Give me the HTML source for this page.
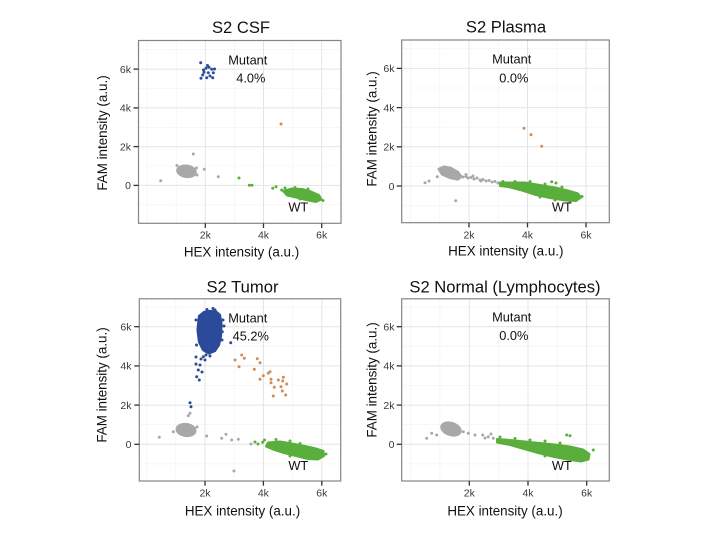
<!DOCTYPE html>
<html>
<head>
<meta charset="utf-8">
<style>
html,body{margin:0;padding:0;background:#fff;}
svg{display:block;}
text{font-family:"Liberation Sans",Arial,sans-serif;}
.t{font-size:16.6px;fill:#111;text-anchor:middle;}
.ax{font-size:13.4px;fill:#111;text-anchor:middle;}
.tk{font-size:10.5px;fill:#3a3a3a;}
.an{font-size:12.8px;fill:#111;text-anchor:middle;}
.gmaj{stroke:#e4e4e4;stroke-width:1;}
.gmin{stroke:#f2f2f2;stroke-width:0.6;}
.bd{fill:none;stroke:#858585;stroke-width:1.2;}
.tick{stroke:#333;stroke-width:1.3;}
.gr circle{fill:#a8a8a8;}
.gn circle{fill:#5aae3c;}
.bl circle{fill:#2b4a99;}
.or circle{fill:#cf8d5a;}
circle{r:1.5px;}
</style>
</head>
<body>
<svg width="720" height="540" viewBox="0 0 720 540" xmlns="http://www.w3.org/2000/svg">
<rect width="720" height="540" fill="#fff"/>

<!-- ============ TOP LEFT: S2 CSF ============ -->
<g>
<line class="gmin" x1="147.1" y1="40.5" x2="147.1" y2="223.3"/>
<line class="gmin" x1="176.2" y1="40.5" x2="176.2" y2="223.3"/>
<line class="gmin" x1="234.4" y1="40.5" x2="234.4" y2="223.3"/>
<line class="gmin" x1="292.6" y1="40.5" x2="292.6" y2="223.3"/>
<line class="gmin" x1="138.5" y1="204.8" x2="341" y2="204.8"/>
<line class="gmin" x1="138.5" y1="166" x2="341" y2="166"/>
<line class="gmin" x1="138.5" y1="127.3" x2="341" y2="127.3"/>
<line class="gmin" x1="138.5" y1="88.5" x2="341" y2="88.5"/>
<line class="gmin" x1="138.5" y1="49.7" x2="341" y2="49.7"/>
<line class="gmaj" x1="205.3" y1="40.5" x2="205.3" y2="223.3"/>
<line class="gmaj" x1="263.5" y1="40.5" x2="263.5" y2="223.3"/>
<line class="gmaj" x1="321.7" y1="40.5" x2="321.7" y2="223.3"/>
<line class="gmaj" x1="138.5" y1="185.4" x2="341" y2="185.4"/>
<line class="gmaj" x1="138.5" y1="146.6" x2="341" y2="146.6"/>
<line class="gmaj" x1="138.5" y1="107.9" x2="341" y2="107.9"/>
<line class="gmaj" x1="138.5" y1="69.1" x2="341" y2="69.1"/>

<ellipse cx="186.5" cy="171.3" rx="9.6" ry="6" fill="#a8a8a8" stroke="#a8a8a8" stroke-width="1.5" transform="rotate(8 186.5 171.3)"/>
<g class="gr">
<circle cx="160.7" cy="180.7" r="1.5"/><circle cx="193.3" cy="154" r="1.5"/><circle cx="204.3" cy="169.3" r="1.5"/>
<circle cx="218.3" cy="176.7" r="1.5"/><circle cx="177" cy="165.5" r="1.4"/><circle cx="197" cy="175" r="1.4"/>
<circle cx="196.5" cy="168" r="1.4"/>
</g>
<path d="M283,191 L292,188.5 L302,189 L311,191.5 L319,195 L321.5,199.5 L316,202 L306,200 L296,197.5 L287,195.5 Z" fill="#5aae3c" stroke="#5aae3c" stroke-width="2" stroke-linejoin="round"/>
<g class="gn">
<circle cx="239" cy="178" r="1.5"/><circle cx="249.3" cy="185.3" r="1.5"/><circle cx="252" cy="185.3" r="1.5"/>
<circle cx="272.7" cy="188.3" r="1.5"/><circle cx="276" cy="186.7" r="1.5"/><circle cx="281.7" cy="190" r="1.5"/>
<circle cx="323" cy="200.5" r="1.4"/><circle cx="285" cy="188" r="1.4"/><circle cx="295" cy="187.5" r="1.4"/>
<circle cx="308" cy="189" r="1.4"/><circle cx="300" cy="199" r="1.4"/>
</g>
<g class="or"><circle cx="281" cy="124" r="1.5"/></g>
<g class="bl">
<circle cx="200.7" cy="62.7" r="1.5"/><circle cx="206" cy="68.3" r="1.5"/><circle cx="209" cy="67.3" r="1.5"/>
<circle cx="211.7" cy="69.3" r="1.5"/><circle cx="204" cy="72.3" r="1.5"/><circle cx="202.7" cy="75" r="1.5"/>
<circle cx="201" cy="78.3" r="1.5"/><circle cx="206.7" cy="77.7" r="1.5"/><circle cx="210" cy="76" r="1.5"/>
<circle cx="212.7" cy="77.7" r="1.5"/><circle cx="213.3" cy="72.7" r="1.5"/><circle cx="208.3" cy="72.7" r="1.5"/>
<circle cx="207.5" cy="65.5" r="1.5"/><circle cx="203.5" cy="70" r="1.5"/><circle cx="214.5" cy="69" r="1.5"/>
</g>
<rect class="bd" x="138.5" y="40.5" width="202.5" height="182.8"/>
<line class="tick" x1="133.5" y1="185.4" x2="138.5" y2="185.4"/>
<line class="tick" x1="133.5" y1="146.6" x2="138.5" y2="146.6"/>
<line class="tick" x1="133.5" y1="107.9" x2="138.5" y2="107.9"/>
<line class="tick" x1="133.5" y1="69.1" x2="138.5" y2="69.1"/>
<line class="tick" x1="205.3" y1="223.3" x2="205.3" y2="228"/>
<line class="tick" x1="263.5" y1="223.3" x2="263.5" y2="228"/>
<line class="tick" x1="321.7" y1="223.3" x2="321.7" y2="228"/>
<text class="tk" x="131" y="189.2" text-anchor="end">0</text>
<text class="tk" x="131" y="150.4" text-anchor="end">2k</text>
<text class="tk" x="131" y="111.7" text-anchor="end">4k</text>
<text class="tk" x="131" y="72.9" text-anchor="end">6k</text>
<text class="tk" x="205.3" y="238.3" text-anchor="middle">2k</text>
<text class="tk" x="263.5" y="238.3" text-anchor="middle">4k</text>
<text class="tk" x="321.7" y="238.3" text-anchor="middle">6k</text>
<text class="t" x="241" y="33">S2 CSF</text>
<text class="ax" x="241.5" y="256.7">HEX intensity (a.u.)</text>
<text class="ax" transform="translate(107,133) rotate(-90)" x="0" y="0">FAM intensity (a.u.)</text>
<text class="an" x="247.8" y="64.3">Mutant</text>
<text class="an" x="250.8" y="82.7">4.0%</text>
<text class="an" x="298.3" y="211.7">WT</text>
</g>

<!-- ============ TOP RIGHT: S2 Plasma ============ -->
<g>
<line class="gmin" x1="410.5" y1="40" x2="410.5" y2="222.7"/>
<line class="gmin" x1="439.75" y1="40" x2="439.75" y2="222.7"/>
<line class="gmin" x1="498.25" y1="40" x2="498.25" y2="222.7"/>
<line class="gmin" x1="556.75" y1="40" x2="556.75" y2="222.7"/>
<line class="gmin" x1="401.7" y1="205.6" x2="609.3" y2="205.6"/>
<line class="gmin" x1="401.7" y1="166.4" x2="609.3" y2="166.4"/>
<line class="gmin" x1="401.7" y1="127.2" x2="609.3" y2="127.2"/>
<line class="gmin" x1="401.7" y1="88" x2="609.3" y2="88"/>
<line class="gmin" x1="401.7" y1="48.8" x2="609.3" y2="48.8"/>
<line class="gmaj" x1="469" y1="40" x2="469" y2="222.7"/>
<line class="gmaj" x1="527.5" y1="40" x2="527.5" y2="222.7"/>
<line class="gmaj" x1="586" y1="40" x2="586" y2="222.7"/>
<line class="gmaj" x1="401.7" y1="186" x2="609.3" y2="186"/>
<line class="gmaj" x1="401.7" y1="146.8" x2="609.3" y2="146.8"/>
<line class="gmaj" x1="401.7" y1="107.6" x2="609.3" y2="107.6"/>
<line class="gmaj" x1="401.7" y1="68.4" x2="609.3" y2="68.4"/>

<path d="M438.5,169 L444,166.5 L451,168 L458,172 L461.5,176.5 L458,179.5 L450,178 L442,174.5 Z" fill="#a8a8a8" stroke="#a8a8a8" stroke-width="2.2" stroke-linejoin="round"/>
<g class="gr">
<circle cx="463" cy="177" r="1.4"/><circle cx="466" cy="176.5" r="1.4"/><circle cx="468" cy="178" r="1.4"/>
<circle cx="471" cy="177.5" r="1.4"/><circle cx="474" cy="179" r="1.4"/><circle cx="477" cy="178" r="1.4"/>
<circle cx="480" cy="180" r="1.4"/><circle cx="483" cy="179.5" r="1.4"/><circle cx="486" cy="181" r="1.4"/>
<circle cx="489" cy="180.5" r="1.4"/><circle cx="492" cy="182" r="1.4"/><circle cx="495" cy="181.5" r="1.4"/>
<circle cx="498" cy="183" r="1.4"/><circle cx="473" cy="176" r="1.4"/><circle cx="481" cy="181" r="1.4"/>
<circle cx="425" cy="182.7" r="1.5"/><circle cx="429" cy="181" r="1.5"/><circle cx="437.3" cy="176.7" r="1.5"/>
<circle cx="455.7" cy="200.7" r="1.5"/><circle cx="466" cy="174.5" r="1.4"/>
</g>
<path d="M500,182.5 L512,182.5 L525,182.5 L540,185 L555,187.5 L568,190.5 L578,193.5 L581,197.5 L576,201 L565,200.5 L550,198 L536,195 L522,190.5 L508,187 L500,186 Z" fill="#5aae3c" stroke="#5aae3c" stroke-width="2" stroke-linejoin="round"/>
<g class="gn">
<circle cx="551.7" cy="181.7" r="1.5"/><circle cx="556" cy="183" r="1.5"/><circle cx="582" cy="196.5" r="1.5"/>
<circle cx="503" cy="181.5" r="1.4"/><circle cx="515" cy="181.5" r="1.4"/><circle cx="520" cy="188" r="1.4"/>
<circle cx="530" cy="181.5" r="1.4"/><circle cx="545" cy="184" r="1.4"/><circle cx="562" cy="187" r="1.4"/>
<circle cx="540" cy="197" r="1.4"/><circle cx="555" cy="200" r="1.4"/><circle cx="570" cy="202" r="1.4"/>
</g>
<g class="or">
<circle cx="524" cy="128.3" r="1.5"/><circle cx="531" cy="134.7" r="1.5"/><circle cx="541.7" cy="146.3" r="1.5"/>
</g>
<rect class="bd" x="401.7" y="40" width="207.6" height="182.7"/>
<line class="tick" x1="396.7" y1="186" x2="401.7" y2="186"/>
<line class="tick" x1="396.7" y1="146.8" x2="401.7" y2="146.8"/>
<line class="tick" x1="396.7" y1="107.6" x2="401.7" y2="107.6"/>
<line class="tick" x1="396.7" y1="68.4" x2="401.7" y2="68.4"/>
<line class="tick" x1="469" y1="222.7" x2="469" y2="227.4"/>
<line class="tick" x1="527.5" y1="222.7" x2="527.5" y2="227.4"/>
<line class="tick" x1="586" y1="222.7" x2="586" y2="227.4"/>
<text class="tk" x="394.5" y="189.8" text-anchor="end">0</text>
<text class="tk" x="394.5" y="150.6" text-anchor="end">2k</text>
<text class="tk" x="394.5" y="111.4" text-anchor="end">4k</text>
<text class="tk" x="394.5" y="72.2" text-anchor="end">6k</text>
<text class="tk" x="469" y="238.3" text-anchor="middle">2k</text>
<text class="tk" x="527.5" y="238.3" text-anchor="middle">4k</text>
<text class="tk" x="586" y="238.3" text-anchor="middle">6k</text>
<text class="t" x="506" y="32.3">S2 Plasma</text>
<text class="ax" x="505.8" y="255.5">HEX intensity (a.u.)</text>
<text class="ax" transform="translate(376.5,129) rotate(-90)" x="0" y="0">FAM intensity (a.u.)</text>
<text class="an" x="511.7" y="63.3">Mutant</text>
<text class="an" x="513.8" y="82.3">0.0%</text>
<text class="an" x="561.8" y="211.7">WT</text>
</g>

<!-- ============ BOTTOM LEFT: S2 Tumor ============ -->
<g>
<line class="gmin" x1="146.6" y1="298.8" x2="146.6" y2="481"/>
<line class="gmin" x1="175.8" y1="298.8" x2="175.8" y2="481"/>
<line class="gmin" x1="234.2" y1="298.8" x2="234.2" y2="481"/>
<line class="gmin" x1="292.6" y1="298.8" x2="292.6" y2="481"/>
<line class="gmin" x1="139.3" y1="463.9" x2="340.7" y2="463.9"/>
<line class="gmin" x1="139.3" y1="424.7" x2="340.7" y2="424.7"/>
<line class="gmin" x1="139.3" y1="385.5" x2="340.7" y2="385.5"/>
<line class="gmin" x1="139.3" y1="346.3" x2="340.7" y2="346.3"/>
<line class="gmin" x1="139.3" y1="307.1" x2="340.7" y2="307.1"/>
<line class="gmaj" x1="205" y1="298.8" x2="205" y2="481"/>
<line class="gmaj" x1="263.4" y1="298.8" x2="263.4" y2="481"/>
<line class="gmaj" x1="321.8" y1="298.8" x2="321.8" y2="481"/>
<line class="gmaj" x1="139.3" y1="444.3" x2="340.7" y2="444.3"/>
<line class="gmaj" x1="139.3" y1="405.1" x2="340.7" y2="405.1"/>
<line class="gmaj" x1="139.3" y1="365.9" x2="340.7" y2="365.9"/>
<line class="gmaj" x1="139.3" y1="326.7" x2="340.7" y2="326.7"/>

<ellipse cx="186" cy="430" rx="9.8" ry="6.3" fill="#a8a8a8" stroke="#a8a8a8" stroke-width="1.5" transform="rotate(8 186 430)"/>
<g class="gr">
<circle cx="159.3" cy="437.3" r="1.5"/><circle cx="173.3" cy="431.7" r="1.5"/><circle cx="190" cy="413.3" r="1.5"/>
<circle cx="188.3" cy="415.7" r="1.5"/><circle cx="206.7" cy="436" r="1.5"/><circle cx="221.7" cy="438.3" r="1.5"/>
<circle cx="226" cy="434.3" r="1.5"/><circle cx="231.7" cy="440" r="1.5"/><circle cx="238.3" cy="439.3" r="1.5"/>
<circle cx="234" cy="471" r="1.5"/><circle cx="251" cy="444" r="1.5"/><circle cx="197" cy="427" r="1.4"/>
</g>
<path d="M268,442.5 L280,441.5 L292,443.5 L305,446 L316,448.5 L323.5,451 L324,456 L318,459.5 L308,459 L296,456 L284,453 L273,449.5 L266,446.5 Z" fill="#5aae3c" stroke="#5aae3c" stroke-width="2" stroke-linejoin="round"/>
<g class="gn">
<circle cx="262.7" cy="442.3" r="1.5"/><circle cx="258" cy="444" r="1.4"/><circle cx="264.5" cy="440" r="1.4"/>
<circle cx="255" cy="442" r="1.4"/><circle cx="276" cy="439.5" r="1.4"/><circle cx="326" cy="454" r="1.4"/>
<circle cx="290" cy="441" r="1.4"/><circle cx="300" cy="443.5" r="1.4"/><circle cx="290" cy="456" r="1.4"/>
</g>
<path d="M199,316 L204,312 L210,311 L216,311.5 L220,315 L221.5,324 L221,336 L219,345 L215,351 L209,353.5 L203,350 L199,342 L197.5,330 Z" fill="#2b4a99" stroke="#2b4a99" stroke-width="2.2" stroke-linejoin="round"/>
<g class="bl">
<circle cx="213" cy="308.5" r="1.5"/><circle cx="215" cy="310" r="1.5"/><circle cx="207" cy="309.5" r="1.5"/>
<circle cx="222.3" cy="331.7" r="1.5"/><circle cx="230.7" cy="342.7" r="1.5"/><circle cx="224" cy="326" r="1.5"/>
<circle cx="223" cy="320" r="1.5"/><circle cx="203.3" cy="356.7" r="1.5"/><circle cx="206" cy="355" r="1.5"/>
<circle cx="210" cy="356" r="1.5"/><circle cx="198.3" cy="370" r="1.5"/><circle cx="196.7" cy="376.7" r="1.5"/>
<circle cx="199.3" cy="380" r="1.5"/><circle cx="202" cy="372" r="1.5"/><circle cx="200" cy="365" r="1.5"/>
<circle cx="205" cy="360" r="1.5"/><circle cx="190" cy="402.7" r="1.5"/><circle cx="191" cy="406.7" r="1.5"/>
<circle cx="196" cy="357" r="1.5"/><circle cx="201" cy="359" r="1.5"/><circle cx="196" cy="364" r="1.5"/>
<circle cx="196.5" cy="345" r="1.5"/><circle cx="196" cy="320" r="1.5"/><circle cx="222" cy="340" r="1.5"/>
</g>
<g class="or">
<circle cx="241.7" cy="355" r="1.5"/><circle cx="244.3" cy="358.3" r="1.5"/><circle cx="235" cy="360" r="1.5"/>
<circle cx="239" cy="366.7" r="1.5"/><circle cx="257.3" cy="358.7" r="1.5"/><circle cx="260" cy="362.7" r="1.5"/>
<circle cx="254.3" cy="369.3" r="1.5"/><circle cx="263.3" cy="375.7" r="1.5"/><circle cx="268.3" cy="373.3" r="1.5"/>
<circle cx="270" cy="371.7" r="1.5"/><circle cx="260" cy="379.3" r="1.5"/><circle cx="271" cy="379.3" r="1.5"/>
<circle cx="271" cy="382.7" r="1.5"/><circle cx="278.3" cy="380" r="1.5"/><circle cx="282.7" cy="381" r="1.5"/>
<circle cx="283.3" cy="377.3" r="1.5"/><circle cx="286.7" cy="384" r="1.5"/><circle cx="274.3" cy="387.3" r="1.5"/>
<circle cx="281" cy="386.7" r="1.5"/><circle cx="282.3" cy="391" r="1.5"/><circle cx="273.3" cy="396" r="1.5"/>
<circle cx="285.7" cy="395" r="1.5"/>
</g>
<rect class="bd" x="139.3" y="298.8" width="201.4" height="182.2"/>
<line class="tick" x1="134.3" y1="444.3" x2="139.3" y2="444.3"/>
<line class="tick" x1="134.3" y1="405.1" x2="139.3" y2="405.1"/>
<line class="tick" x1="134.3" y1="365.9" x2="139.3" y2="365.9"/>
<line class="tick" x1="134.3" y1="326.7" x2="139.3" y2="326.7"/>
<line class="tick" x1="205" y1="481" x2="205" y2="485.7"/>
<line class="tick" x1="263.4" y1="481" x2="263.4" y2="485.7"/>
<line class="tick" x1="321.8" y1="481" x2="321.8" y2="485.7"/>
<text class="tk" x="131.5" y="448.1" text-anchor="end">0</text>
<text class="tk" x="131.5" y="408.9" text-anchor="end">2k</text>
<text class="tk" x="131.5" y="369.7" text-anchor="end">4k</text>
<text class="tk" x="131.5" y="330.5" text-anchor="end">6k</text>
<text class="tk" x="205" y="496.7" text-anchor="middle">2k</text>
<text class="tk" x="263.4" y="496.7" text-anchor="middle">4k</text>
<text class="tk" x="321.8" y="496.7" text-anchor="middle">6k</text>
<text class="t" x="242.5" y="292.3">S2 Tumor</text>
<text class="ax" x="242.5" y="515.3">HEX intensity (a.u.)</text>
<text class="ax" transform="translate(106.5,385) rotate(-90)" x="0" y="0">FAM intensity (a.u.)</text>
<text class="an" x="247.8" y="322.7">Mutant</text>
<text class="an" x="250.8" y="340.7">45.2%</text>
<text class="an" x="298.3" y="470">WT</text>
</g>

<!-- ============ BOTTOM RIGHT: S2 Normal ============ -->
<g>
<line class="gmin" x1="410.6" y1="298.8" x2="410.6" y2="481"/>
<line class="gmin" x1="439.95" y1="298.8" x2="439.95" y2="481"/>
<line class="gmin" x1="498.65" y1="298.8" x2="498.65" y2="481"/>
<line class="gmin" x1="557.35" y1="298.8" x2="557.35" y2="481"/>
<line class="gmin" x1="401.7" y1="463.9" x2="609.3" y2="463.9"/>
<line class="gmin" x1="401.7" y1="424.7" x2="609.3" y2="424.7"/>
<line class="gmin" x1="401.7" y1="385.5" x2="609.3" y2="385.5"/>
<line class="gmin" x1="401.7" y1="346.3" x2="609.3" y2="346.3"/>
<line class="gmin" x1="401.7" y1="307.1" x2="609.3" y2="307.1"/>
<line class="gmaj" x1="469.3" y1="298.8" x2="469.3" y2="481"/>
<line class="gmaj" x1="528" y1="298.8" x2="528" y2="481"/>
<line class="gmaj" x1="586.7" y1="298.8" x2="586.7" y2="481"/>
<line class="gmaj" x1="401.7" y1="444.3" x2="609.3" y2="444.3"/>
<line class="gmaj" x1="401.7" y1="405.1" x2="609.3" y2="405.1"/>
<line class="gmaj" x1="401.7" y1="365.9" x2="609.3" y2="365.9"/>
<line class="gmaj" x1="401.7" y1="326.7" x2="609.3" y2="326.7"/>

<ellipse cx="451" cy="429" rx="10.3" ry="6.4" fill="#a8a8a8" stroke="#a8a8a8" stroke-width="1.5" transform="rotate(18 451 429)"/>
<g class="gr">
<circle cx="426.7" cy="438.3" r="1.5"/><circle cx="431.7" cy="433.3" r="1.5"/><circle cx="436.7" cy="435" r="1.5"/>
<circle cx="463.3" cy="431.7" r="1.5"/><circle cx="468.3" cy="433.3" r="1.5"/><circle cx="475" cy="435" r="1.5"/>
<circle cx="482.7" cy="435" r="1.5"/><circle cx="488.3" cy="436.7" r="1.5"/><circle cx="493.3" cy="438.3" r="1.5"/>
<circle cx="491" cy="434" r="1.4"/><circle cx="485" cy="438" r="1.4"/>
</g>
<path d="M497,439 L510,440 L525,441.5 L540,443 L555,444.5 L570,446.5 L583,449.5 L589.5,454 L588.5,459.5 L581,461.5 L567,459.5 L552,456.5 L538,453 L524,449 L510,445 L497,442.5 Z" fill="#5aae3c" stroke="#5aae3c" stroke-width="2" stroke-linejoin="round"/>
<g class="gn">
<circle cx="566.7" cy="435" r="1.5"/><circle cx="570" cy="435.7" r="1.5"/><circle cx="593.3" cy="450" r="1.5"/>
<circle cx="500" cy="437" r="1.4"/><circle cx="515" cy="438.5" r="1.4"/><circle cx="530" cy="440" r="1.4"/>
<circle cx="545" cy="441" r="1.4"/><circle cx="520" cy="447" r="1.4"/><circle cx="560" cy="443" r="1.4"/>
<circle cx="545" cy="456" r="1.4"/>
</g>
<rect class="bd" x="401.7" y="298.8" width="207.6" height="182.2"/>
<line class="tick" x1="396.7" y1="444.3" x2="401.7" y2="444.3"/>
<line class="tick" x1="396.7" y1="405.1" x2="401.7" y2="405.1"/>
<line class="tick" x1="396.7" y1="365.9" x2="401.7" y2="365.9"/>
<line class="tick" x1="396.7" y1="326.7" x2="401.7" y2="326.7"/>
<line class="tick" x1="469.3" y1="481" x2="469.3" y2="485.7"/>
<line class="tick" x1="528" y1="481" x2="528" y2="485.7"/>
<line class="tick" x1="586.7" y1="481" x2="586.7" y2="485.7"/>
<text class="tk" x="394.5" y="448.1" text-anchor="end">0</text>
<text class="tk" x="394.5" y="408.9" text-anchor="end">2k</text>
<text class="tk" x="394.5" y="369.7" text-anchor="end">4k</text>
<text class="tk" x="394.5" y="330.5" text-anchor="end">6k</text>
<text class="tk" x="469.3" y="496.7" text-anchor="middle">2k</text>
<text class="tk" x="528" y="496.7" text-anchor="middle">4k</text>
<text class="tk" x="586.7" y="496.7" text-anchor="middle">6k</text>
<text class="t" x="505" y="292.5">S2 Normal (Lymphocytes)</text>
<text class="ax" x="505" y="515.5">HEX intensity (a.u.)</text>
<text class="ax" transform="translate(376.5,380) rotate(-90)" x="0" y="0">FAM intensity (a.u.)</text>
<text class="an" x="511.7" y="321.7">Mutant</text>
<text class="an" x="513.8" y="340">0.0%</text>
<text class="an" x="561.8" y="470">WT</text>
</g>
</svg>
</body>
</html>
